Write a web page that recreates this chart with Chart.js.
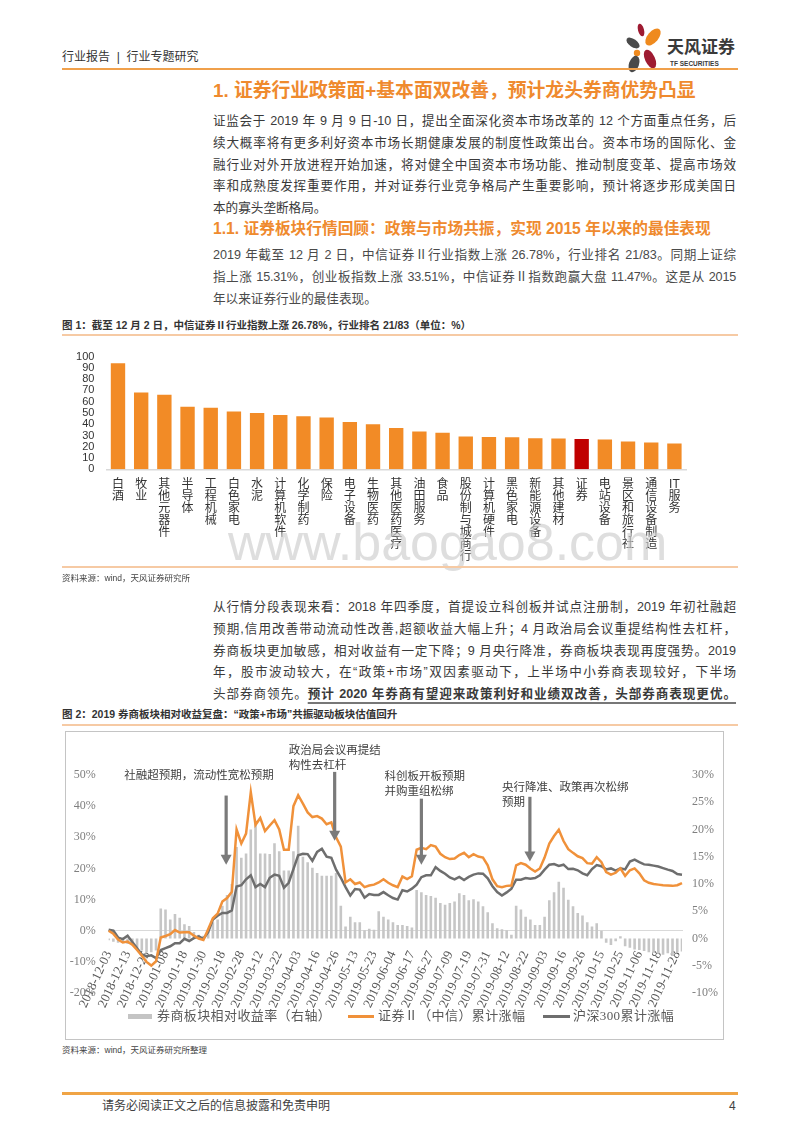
<!DOCTYPE html>
<html lang="zh-CN">
<head>
<meta charset="utf-8">
<title>证券行业政策面+基本面双改善</title>
<script src="https://cdn.jsdelivr.net/npm/chart.js@4.4.1/dist/chart.umd.min.js"></script>
<style>
  html, body { margin: 0; padding: 0; background: #fff; }
  #page { position: relative; width: 800px; height: 1132px; overflow: hidden;
          font-family: "Liberation Sans", "Noto Sans CJK SC", sans-serif; color: #333; }
  .abs { position: absolute; }
  .rule { position: absolute; left: 62px; width: 676px; }
  .para { position: absolute; left: 213px; width: 523px; font-size: 12.6px; line-height: 21.8px; color: #3a3a3a; }
  .para div { text-align: justify; text-align-last: justify; }
  .para div.end { text-align-last: left; }
  .orange { color: #ef8a2e; font-weight: bold; }
  .cap { position: absolute; left: 62px; font-size: 10.5px; line-height: 14px; font-weight: bold; color: #333; }
  .src { position: absolute; left: 62px; font-size: 8.5px; line-height: 12px; color: #444; }
  .leg { position: absolute; top: 1008px; font-family: "Liberation Serif", "Noto Sans CJK SC", serif;
         font-size: 13px; line-height: 16px; color: #595959; letter-spacing: 0.4px; }
  .key { position: absolute; }
  u { text-decoration-color: #777; text-underline-offset: 4px; text-decoration-thickness: 1.5px; }
</style>
</head>
<body>
<div id="page">

  <div class="abs" style="left:62px;top:49px;font-size:12px;line-height:16px;color:#333;">行业报告 &nbsp;|&nbsp; 行业专题研究</div>

  <svg class="abs" style="left:624px;top:22px;" width="116" height="52" viewBox="0 0 116 52">
    <ellipse cx="17" cy="8" rx="3" ry="6.5" fill="#9e1b32" transform="rotate(-15 17 8)"/>
    <ellipse cx="29" cy="15" rx="5.5" ry="10" fill="#ef8a1e" transform="rotate(40 29 15)"/>
    <ellipse cx="9" cy="21" rx="4" ry="7.5" fill="#4a4a4a" transform="rotate(-55 9 21)"/>
    <circle cx="13" cy="31" r="3.2" fill="#ef8a1e"/>
    <ellipse cx="26" cy="37" rx="5" ry="10" fill="#9e1b32" transform="rotate(-25 26 37)"/>
    <ellipse cx="10" cy="42" rx="5" ry="8.5" fill="#4a4a4a" transform="rotate(20 10 42)"/>
    <text x="43" y="31" font-size="17" font-weight="bold" fill="#3a3a3a" font-family="Noto Sans CJK SC">天风证券</text>
    <text x="46" y="44" font-size="6.5" font-weight="bold" fill="#3a3a3a" font-family="Liberation Sans">TF SECURITIES</text>
  </svg>

  <div class="rule" style="top:68px;height:2px;background:#f0a04b;"></div>

  <div class="abs orange" style="left:213px;top:79px;font-size:18.8px;line-height:24px;">1. 证券行业政策面+基本面双改善，预计龙头券商优势凸显</div>

  <div class="para" style="top:111px;">
    <div>证监会于 2019 年 9 月 9 日-10 日，提出全面深化资本市场改革的 12 个方面重点任务，后</div>
    <div>续大概率将有更多利好资本市场长期健康发展的制度性政策出台。资本市场的国际化、金</div>
    <div>融行业对外开放进程开始加速，将对健全中国资本市场功能、推动制度变革、提高市场效</div>
    <div>率和成熟度发挥重要作用，并对证券行业竞争格局产生重要影响，预计将逐步形成美国日</div>
    <div class="end">本的寡头垄断格局。</div>
  </div>

  <div class="abs orange" style="left:213px;top:217px;font-size:15.7px;line-height:24px;">1.1. 证券板块行情回顾：政策与市场共振，实现 2015 年以来的最佳表现</div>

  <div class="para" style="top:245px;color:#4a4a4a;">
    <div>2019 年截至 12 月 2 日，中信证券Ⅱ行业指数上涨 26.78%，行业排名 21/83。同期上证综</div>
    <div style="letter-spacing:-0.2px;">指上涨 15.31%，创业板指数上涨 33.51%，中信证券Ⅱ指数跑赢大盘 11.47%。这是从 2015</div>
    <div class="end">年以来证券行业的最佳表现。</div>
  </div>

  <div class="cap" style="top:318px;">图 1：截至 12 月 2 日，中信证券Ⅱ行业指数上涨 26.78%，行业排名 21/83（单位：%）</div>
  <div class="rule" style="top:334px;height:1.5px;background:#f6caa4;"></div>

  <canvas id="chart1" class="abs" style="left:62px;top:338px;" width="676" height="230"></canvas>

  <div class="abs" style="left:228px;top:512px;font-size:52px;line-height:60px;color:rgba(205,205,205,0.65);font-family:'Liberation Sans',sans-serif;">www.baogao8.com</div>

  <div class="rule" style="top:566px;height:1.5px;background:#f6caa4;"></div>
  <div class="src" style="top:572px;">资料来源：wind，天风证券研究所</div>

  <div class="para" style="top:597px;">
    <div>从行情分段表现来看：2018 年四季度，首提设立科创板并试点注册制，2019 年初社融超</div>
    <div>预期,信用改善带动流动性改善,超额收益大幅上升；4 月政治局会议重提结构性去杠杆，</div>
    <div>券商板块更加敏感，相对收益有一定下降；9 月央行降准，券商板块表现再度强势。2019</div>
    <div>年，股市波动较大，在“政策+市场”双因素驱动下，上半场中小券商表现较好，下半场</div>
    <div>头部券商领先。<b><u>预计 2020 年券商有望迎来政策利好和业绩双改善，头部券商表现更优。</u></b></div>
  </div>

  <div class="cap" style="top:707px;">图 2：2019 券商板块相对收益复盘：“政策+市场”共振驱动板块估值回升</div>
  <div class="rule" style="top:724px;height:1.5px;background:#f6caa4;"></div>

  <div class="abs" style="left:65px;top:731px;width:659px;height:309px;box-sizing:border-box;border:1px solid #c4c4c4;"></div>
  <canvas id="chart2" class="abs" style="left:65px;top:731px;" width="659" height="309"></canvas>

  <div class="key" style="left:128px;top:1013.5px;width:24px;height:5px;background:#c4c4c4;"></div>
  <div class="leg" style="left:157px;">券商板块相对收益率（右轴）</div>
  <div class="key" style="left:348px;top:1014.5px;width:26px;height:3px;background:#f0913a;"></div>
  <div class="leg" style="left:378px;">证券Ⅱ（中信）累计涨幅</div>
  <div class="key" style="left:543px;top:1014.5px;width:27px;height:3px;background:#6e6e6e;"></div>
  <div class="leg" style="left:573px;">沪深300累计涨幅</div>

  <div class="src" style="top:1044px;">资料来源：wind，天风证券研究所整理</div>

  <div class="rule" style="top:1092px;height:2.5px;background:#f0a445;"></div>
  <div class="abs" style="left:102px;top:1099px;font-size:12px;line-height:14px;color:#404040;">请务必阅读正文之后的信息披露和免责申明</div>
  <div class="abs" style="left:729px;top:1099px;font-size:12px;line-height:14px;color:#404040;">4</div>
</div>

<script>
// ---- figure 1: industry gains since start of 2019 (%) ----
var industries = ['白酒', '牧业', '其他元器件', '半导体', '工程机械', '白色家电', '水泥', '计算机软件',
    '化学制药', '保险', '电子设备', '生物医药', '其他医药医疗', '油田服务', '食品', '股份制与城商行',
    '计算机硬件', '黑色家电', '新能源设备', '其他建材', '证券', '电站设备', '景区和旅行社', '通信设备制造', 'IT服务'];
var gains = [94.1, 68.1, 66.2, 55.6, 54.6, 51.3, 50.0, 48.1, 47.0, 45.9, 41.9, 40.0, 36.7,
    33.5, 32.4, 29.2, 28.6, 28.4, 27.5, 27.3, 26.78, 26.5, 24.6, 23.8, 22.9];
var highlight = '证券';

// ---- figure 2: one value every 2 trading days, 2018-12-03 .. 2019-12-02 ----
var dateTicks = ['2018-12-03', '2018-12-13', '2018-12-25', '2019-01-08', '2019-01-18', '2019-01-30',
    '2019-02-18', '2019-02-28', '2019-03-12', '2019-03-22', '2019-04-03', '2019-04-16', '2019-04-26',
    '2019-05-13', '2019-05-23', '2019-06-04', '2019-06-17', '2019-06-27', '2019-07-09', '2019-07-19',
    '2019-07-31', '2019-08-12', '2019-08-22', '2019-09-03', '2019-09-16', '2019-09-26', '2019-10-15',
    '2019-10-25', '2019-11-06', '2019-11-18', '2019-11-28'];

// 证券II（中信）累计涨幅, left axis (%)
var brokerLine = [0, -1, -2.8, -3.8, -3.5, -4.5, -6.2, -8, -10, -11.2,
    -9.8, -2.2, -1.7, -1.1, 0.2, -0.6, -0.5, -0.5, -1.6, -2.5,
    -3, 0.5, 4, 5.5, 9.4, 10.5, 12.5, 32.5, 28, 31.2,
    44.5, 34, 36.2, 32, 33.8, 35.5, 32.5, 26, 26, 40,
    43.5, 40.8, 38, 36.5, 36.8, 36, 34.2, 34.8, 30, 27,
    15.5, 16.5, 15, 15.5, 14, 14.5, 14.8, 15.5, 16.5, 15.4,
    14.6, 14, 17.4, 16.6, 17.5, 26, 26.6, 26.2, 27.5, 27,
    24.7, 23.6, 23, 23.2, 24.3, 25, 23.6, 24.6, 23.8, 23.5,
    21, 16.5, 14.3, 14, 14.4, 14.5, 21, 21.7, 21.2, 20,
    19, 20, 23.5, 28, 30.4, 32.4, 28.8, 26.2, 25, 23.9,
    23.3, 21.7, 21.5, 23.6, 22, 18.8, 18, 18.6, 20, 17.6,
    19.4, 20, 18.4, 16.2, 15.4, 15, 14.8, 14.6, 14.5, 14.4,
    14.6, 15.3];

// 沪深300累计涨幅, left axis (%)
var hs300Line = [0.3, 0, -2.2, -2.7, -1.6, -3.6, -5.6, -7.6, -8.2, -7.9,
    -8.8, -6.2, -5.6, -5, -4, -4, -2.6, -3.3, -2.4, -1.8,
    -2.6, -0.5, 3.6, 4.8, 5.7, 5.7, 6.5, 14.2, 14.6, 16.5,
    17.8, 14, 15, 14, 17, 18, 17.6, 13.8, 15.4, 19.8,
    24.2, 24.7, 24.6, 22.4, 25.3, 26.3, 23.8, 23.4, 19.6, 17,
    14, 11.3, 13.4, 13.2, 10.6, 11.8, 11.5, 11.5, 12.4, 11.4,
    10.5, 10, 13, 12.6, 13.5, 14.8, 17.2, 17.8, 17.8, 20.4,
    19.2, 18.3, 17.1, 16.5, 17.3, 16.3, 17.3, 18, 18.4, 18.3,
    16.8, 14.3, 12.4, 11.3, 12.3, 13.5, 16.4, 16.4, 16.9, 16.7,
    16.9, 17.8, 19.6, 21.2, 21.4, 20.8, 21.2, 19.8, 19.9, 19.4,
    18.4, 17.8, 19.8, 21.1, 20.7, 19.7, 20, 19.3, 20, 19.7,
    22.2, 22.8, 22, 21.3, 21.2, 20.9, 20.6, 20.1, 19.6, 19.2,
    18.2, 18];

// 券商板块相对收益率, right axis (%)
var relReturn = [-0.3, -0.6, -0.8, -0.8, -1, -1.2, -1.8, -2.2, -2.5, -2.5, -2.2,
    5.5, 5.3, 3.5, 4.5, 3.8, 2.6, 2.3, 1.2, 0.7, 0.5,
    1.5, 3, 3.5, 6, 8, 10, 16.8, 14.8, 15.6, 20,
    21.6, 15.6, 15.6, 15.5, 17.5, 16, 12.5, 12.5, 16, 20.7,
    15, 14, 13, 12, 11.5, 11.5, 11.5, 12, 6, 2.2,
    4, 3, 3, 1.5, 1.8, 1.6, 5, 4, 3.5, 3,
    2.5, 2.5, 2.3, 2, 8.9, 8.5, 8, 7.8, 7.5, 6.5,
    6.2, 6.5, 6.8, 8.3, 8, 7, 7.2, 6.8, 5.9, 4.8,
    2.8, 1.9, 1.7, 1.5, 0.7, 6, 5.3, 4, 3.5, 2.5,
    2.5, 4, 7, 8.5, 10.4, 9.3, 7.1, 5.9, 4.7, 4.2,
    3, 2.2, 2.8, 1.4, -0.8, -1.2, -0.5, 0.4, -1.4, -1.7,
    -2, -2.1, -2.3, -2.5, -2.6, -2.8, -3, -2.7, -3.2, -2.5, -2.4];

var sans = '"Liberation Sans", "Noto Sans CJK SC", sans-serif';
var serif = '"Liberation Serif", "Noto Sans CJK SC", serif';

document.addEventListener('DOMContentLoaded', function() {
    // figure 1
    new Chart(document.getElementById('chart1'), {
        type: 'bar',
        data: {
            // stack the characters vertically, keep latin runs together
            labels: industries.map(function(s) { return s.match(/[A-Za-z]+|./g); }),
            datasets: [{
                data: gains,
                backgroundColor: industries.map(function(s) { return s === highlight ? '#c00000' : '#f28b26'; }),
                barPercentage: 0.62,
                categoryPercentage: 1
            }]
        },
        options: {
            responsive: false,
            animation: false,
            layout: { padding: { top: 8, right: 52, left: 0, bottom: 0 } },
            plugins: { legend: { display: false }, tooltip: { enabled: false } },
            scales: {
                x: {
                    grid: { display: false, drawTicks: false },
                    border: { color: '#d9d9d9', width: 1.5 },
                    ticks: { autoSkip: false, maxRotation: 0, minRotation: 0, padding: 9, color: '#333',
                             font: { family: sans, size: 12, lineHeight: 1 } },
                    afterFit: function(s) { s.height = 98.7; }
                },
                y: {
                    min: 0, max: 100,
                    grid: { display: false, drawTicks: false },
                    border: { display: false },
                    ticks: { stepSize: 10, autoSkip: false, padding: 12, color: '#333',
                             font: { family: sans, size: 11 } },
                    afterFit: function(s) { s.width = 44.4; }
                }
            }
        }
    });

    // figure 2
    var dayLabels = brokerLine.map(function(v, i) { return i % 4 === 0 ? dateTicks[i / 4] : ''; });

    // annotations: arrow position on the category axis, arrow ends and first text line on the left axis
    var notes = [
        { text: ['社融超预期，流动性宽松预期'], at: 24.8, from: 43.4, to: 21.2, textAt: 49.8, dx: -102 },
        { text: ['政治局会议再提结', '构性去杠杆'], at: 47.7, from: 51, to: 28.9, textAt: 57.8, dx: -46 },
        { text: ['科创板开板预期', '并购重组松绑'], at: 66, from: 42.4, to: 21.2, textAt: 49.5, dx: -37 },
        { text: ['央行降准、政策再次松绑', '预期'], at: 88.9, from: 43, to: 22.2, textAt: 45.9, dx: -28 }
    ];
    var notePlugin = {
        id: 'notes',
        afterDatasetsDraw: function(chart) {
            var ctx = chart.ctx, x = chart.scales.x, y = chart.scales.y;
            ctx.save();
            notes.forEach(function(n) {
                var px = x.getPixelForValue(n.at);
                var top = y.getPixelForValue(n.from), tip = y.getPixelForValue(n.to);
                ctx.fillStyle = '#7a7a7a';
                ctx.fillRect(px - 1.6, top, 3.2, tip - top - 9);
                ctx.beginPath();
                ctx.moveTo(px - 5.5, tip - 10);
                ctx.lineTo(px + 5.5, tip - 10);
                ctx.lineTo(px, tip);
                ctx.closePath();
                ctx.fill();
                ctx.fillStyle = '#404040';
                ctx.font = '11.5px ' + serif;
                ctx.textBaseline = 'middle';
                n.text.forEach(function(t, k) {
                    ctx.fillText(t, px + n.dx, y.getPixelForValue(n.textAt) + k * 15);
                });
            });
            ctx.restore();
        }
    };

    new Chart(document.getElementById('chart2'), {
        type: 'bar',
        data: {
            labels: dayLabels,
            datasets: [
                { type: 'line', label: '证券Ⅱ（中信）累计涨幅', data: brokerLine, yAxisID: 'y',
                  borderColor: '#f0913a', borderWidth: 2.5, pointRadius: 0, tension: 0, order: 1 },
                { type: 'line', label: '沪深300累计涨幅', data: hs300Line, yAxisID: 'y',
                  borderColor: '#6e6e6e', borderWidth: 2.5, pointRadius: 0, tension: 0, order: 2 },
                { type: 'bar', label: '券商板块相对收益率（右轴）', data: relReturn, yAxisID: 'y1',
                  backgroundColor: '#c6c6c6', barPercentage: 0.55, categoryPercentage: 1, order: 3 }
            ]
        },
        options: {
            responsive: false,
            animation: false,
            layout: { padding: { top: 44, bottom: 47, left: 0, right: 0 } },
            plugins: { legend: { display: false }, tooltip: { enabled: false } },
            scales: {
                x: {
                    type: 'category',
                    position: { y: 0 },
                    offset: false,
                    grid: { display: false, drawTicks: false },
                    border: { color: '#d9d9d9', width: 1 },
                    ticks: { autoSkip: false, minRotation: 65, maxRotation: 65, padding: 18, color: '#595959',
                             font: { family: serif, size: 13 } }
                },
                y: {
                    position: 'left', min: -20, max: 50,
                    grid: { display: false, drawTicks: false },
                    border: { display: false },
                    ticks: { stepSize: 10, padding: 13, color: '#7f7f7f', font: { family: serif, size: 12 },
                             callback: function(v) { return v + '%'; } },
                    afterFit: function(s) { s.width = 41; }
                },
                y1: {
                    position: 'right', min: -10, max: 30,
                    grid: { display: false, drawTicks: false },
                    border: { display: false },
                    ticks: { stepSize: 5, padding: 10, color: '#7f7f7f', font: { family: serif, size: 12 },
                             callback: function(v) { return v + '%'; } },
                    afterFit: function(s) { s.width = 42; }
                }
            }
        },
        plugins: [notePlugin]
    });
});
</script>
</body>
</html>
